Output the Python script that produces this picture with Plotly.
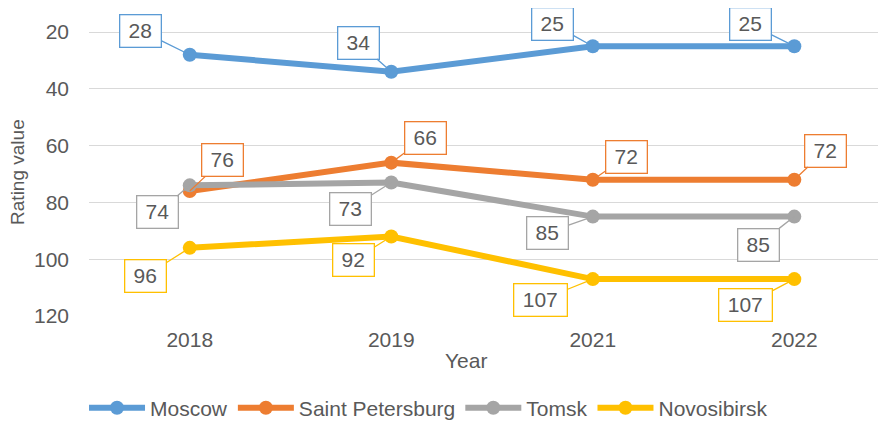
import plotly.graph_objects as go

years = ["2018", "2019", "2021", "2022"]
moscow = [28, 34, 25, 25]
saint_petersburg = [76, 66, 72, 72]
tomsk = [74, 73, 85, 85]
novosibirsk = [96, 92, 107, 107]

series_names = ["Moscow", "Saint Petersburg", "Tomsk", "Novosibirsk"]
series_values = [moscow, saint_petersburg, tomsk, novosibirsk]
colors = ["#5B9BD5", "#ED7D31", "#A5A5A5", "#FFC000"]

# callout offsets (pixels, box centre relative to point) - styling only
offsets = [
    [(-49, -24), (-33, -29), (-40, -22), (-44, -22)],
    [(33, -31), (34, -25), (34, -23), (31, -29)],
    [(-32, 27), (-41, 26), (-45, 16), (-36, 28)],
    [(-44, 28), (-38, 24), (-52, 21), (-49, 26)],
]

FONT = "Liberation Sans, Arial, sans-serif"
TXT = "#595959"
FS = 21

fig = go.Figure()
for name, vals, col in zip(series_names, series_values, colors):
    fig.add_trace(go.Scatter(
        x=years, y=vals, name=name, mode="lines+markers",
        line=dict(color=col, width=6),
        marker=dict(color=col, size=14),
    ))

annotations = []
for vals, col, offs in zip(series_values, colors, offsets):
    for idx, (v, (dx, dy)) in enumerate(zip(vals, offs)):
        s = str(v)
        annotations.append(dict(
            x=idx, y=v, xref="x", yref="y", text=s,
            showarrow=True, arrowhead=0, arrowwidth=1.3, arrowcolor=col,
            ax=dx, ay=dy, axref="pixel", ayref="pixel",
            bgcolor="white", bordercolor=col, borderwidth=1.3, borderpad=1,
            width=38 if len(s) < 3 else 50, height=29,
            font=dict(family=FONT, size=FS, color=TXT),
        ))

annotations.append(dict(
    text="Year", xref="paper", yref="paper", x=0.473, y=-0.146,
    showarrow=False, xanchor="center", yanchor="middle",
    font=dict(family=FONT, size=FS, color=TXT),
))
annotations.append(dict(
    text="Rating value", xref="paper", yref="paper", x=-0.089, y=0.468,
    showarrow=False, xanchor="center", yanchor="middle", textangle=-90,
    font=dict(family=FONT, size=19, color=TXT),
))

# the page body has an 8px default margin, so the figure is sized to fit inside
fig.update_layout(
    width=878, height=415,
    margin=dict(l=81, r=0, t=0, b=107, autoexpand=False),
    plot_bgcolor="white", paper_bgcolor="white",
    font=dict(family=FONT, size=FS, color=TXT),
    xaxis=dict(
        type="category", range=[-0.5, 3.455], showgrid=False,
        showline=False, zeroline=False, ticks="", automargin=False,
        tickfont=dict(family=FONT, size=FS, color=TXT),
        ticklabelstandoff=9,
    ),
    yaxis=dict(
        range=[120, 11.55], tick0=0, dtick=20, showgrid=True,
        gridcolor="#D9D9D9", gridwidth=1.3, zeroline=False, showline=False,
        ticks="", automargin=False, tickfont=dict(family=FONT, size=FS, color=TXT),
        ticklabelstandoff=19,
    ),
    legend=dict(
        orientation="h", x=0.426, xanchor="center", y=-0.299, yanchor="middle",
        font=dict(family=FONT, size=FS, color=TXT),
        itemwidth=56,
    ),
    annotations=annotations,
    showlegend=True,
)

fig.write_html("out.html")
